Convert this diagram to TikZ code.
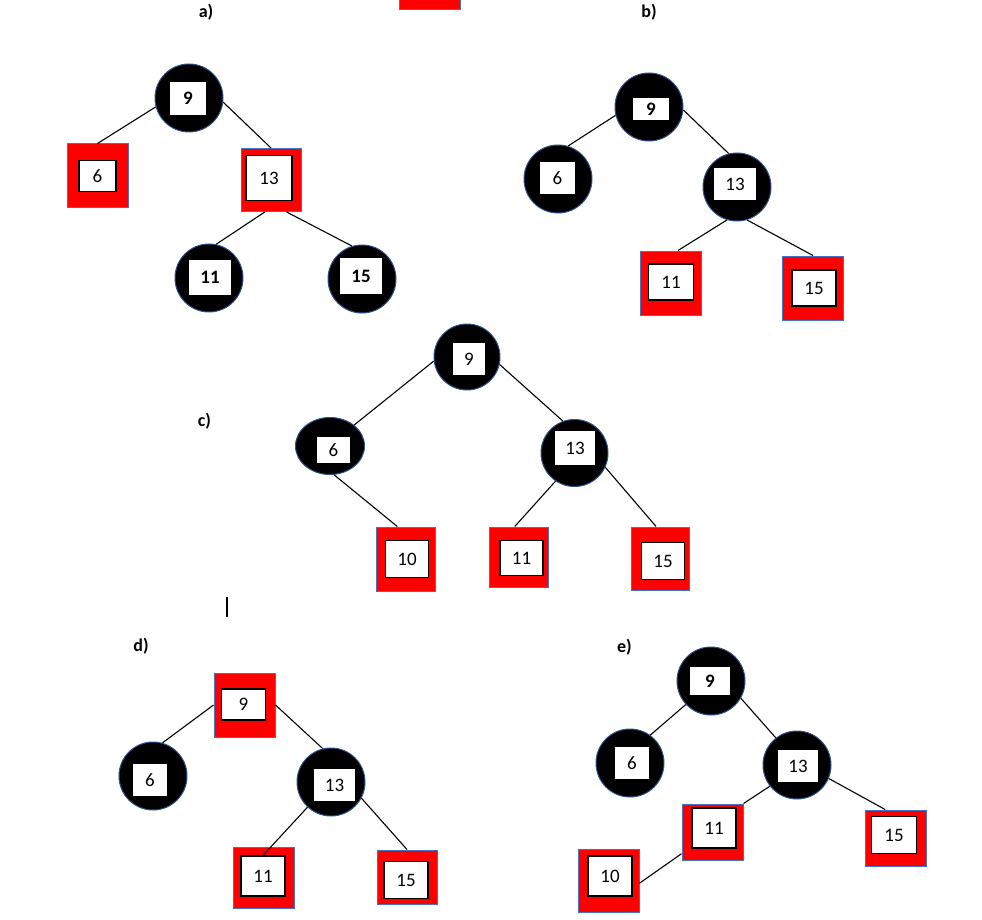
\documentclass[tikz,border=0pt]{standalone}
\usepackage{fontspec}
\setmainfont{Carlito}
\usetikzlibrary{shapes.geometric}
\definecolor{nodeblue}{RGB}{47,82,143}
\definecolor{boxblue}{RGB}{68,114,196}
\begin{document}
\begin{tikzpicture}[x=1pt,y=-1pt]
\tikzstyle{every node}=[font=\fontsize{19}{22}\selectfont,inner sep=0pt];
\tikzstyle{bnode}=[draw=nodeblue,fill=black,shape=circle,minimum size=68pt,line width=1pt];
\tikzstyle{rnode}=[draw=boxblue,fill=red,shape=rectangle,minimum width=61pt,minimum height=64pt,line width=1pt];
\tikzstyle{tbox}=[draw=black,fill=white,shape=rectangle,line width=1.2pt,minimum width=44pt,minimum height=36pt];
\tikzstyle{lbl}=[font=\fontsize{18}{22}\selectfont\bfseries];
\useasboundingbox (0,0) rectangle (982,920);
\clip (0,0) rectangle (982,920);
\node[rnode] (top) at (430,-22) {};
% a)
\node[lbl] (la) at (206,12) {a)};
\node[bnode] (a9) at (189,98) {};
\node[tbox,minimum width=38pt,minimum height=35pt] (a9t) at (188,98.5) {\bfseries 9};
\node[rnode] (a6) at (97.5,176) {};
\node[tbox,minimum width=37pt,minimum height=31pt] (a6t) at (97.5,176) {6};
\node[rnode,minimum width=60pt,minimum height=63pt] (a13) at (271,180) {};
\node[tbox,minimum width=46pt,minimum height=45pt] (a13t) at (269,178) {13};
\node[bnode] (a11) at (209,278) {};
\node[tbox,minimum height=37pt] (a11t) at (210,277.5) {\bfseries 11};
\node[bnode] (a15) at (362,279) {};
\node[tbox,minimum height=37pt] (a15t) at (361,276) {\bfseries 15};
% b)
\node[lbl] (lb) at (649,12) {b)};
\node[bnode] (b9) at (649,107) {};
\node[tbox,minimum width=38pt,minimum height=24pt] (b9t) at (651,109) {\bfseries 9};
\node[bnode] (b6) at (558,179) {};
\node[tbox,minimum width=36pt,minimum height=33pt] (b6t) at (557.5,178) {6};
\node[bnode] (b13) at (737,187) {};
\node[tbox,minimum width=43pt,minimum height=34pt] (b13t) at (735,184) {13};
\node[rnode] (b11) at (670.5,283) {};
\node[tbox,minimum width=45pt] (b11t) at (671,282) {11};
\node[rnode] (b15) at (813,288) {};
\node[tbox] (b15t) at (814,288) {15};
% c)
\node[lbl] (lc) at (204.5,421) {c)};
\draw[line width=1.5pt] (227,597) -- (227,617);
\node[bnode,minimum size=66pt] (c9) at (467,357) {};
\node[tbox,minimum width=34pt,minimum height=33pt] (c9t) at (469,359) {9};
\node[bnode,shape=ellipse,minimum width=69pt,minimum height=57pt] (c6) at (330,446) {};
\node[tbox,minimum width=35pt,minimum height=28pt] (c6t) at (333.5,450) {6};
\node[bnode,minimum size=67pt] (c13) at (574.5,453) {};
\node[tbox,minimum width=41pt,minimum height=35pt] (c13t) at (575,448) {13};
\node[rnode,minimum width=59pt] (c10) at (406,559) {};
\node[tbox,minimum width=43pt,minimum height=37pt] (c10t) at (407,559) {10};
\node[rnode,minimum width=59pt,minimum height=60pt] (c11) at (518.5,557) {};
\node[tbox,minimum width=43pt,minimum height=35pt] (c11t) at (521.5,558) {11};
\node[rnode,minimum width=58pt,minimum height=63pt] (c15) at (660,558.5) {};
\node[tbox,minimum width=43pt,minimum height=37pt] (c15t) at (663,561) {15};
% d)
\node[lbl] (ld) at (141,646) {d)};
\node[rnode] (d9) at (244.5,705) {};
\node[tbox,minimum height=31pt] (d9t) at (243.5,704.5) {9};
\node[bnode] (d6) at (153,776) {};
\node[tbox,minimum width=36pt,minimum height=33pt] (d6t) at (150,780) {6};
\node[bnode] (d13) at (331,782) {};
\node[tbox,minimum width=43pt,minimum height=34pt] (d13t) at (334.5,785) {13};
\node[rnode,minimum height=61pt] (d11) at (263.5,877.5) {};
\node[tbox,minimum height=40pt] (d11t) at (263,876) {11};
\node[rnode,minimum width=60pt,minimum height=54pt] (d15) at (407,877) {};
\node[tbox,minimum height=37pt] (d15t) at (406,880) {15};
% e)
\node[lbl] (le) at (624.5,647) {e)};
\node[bnode] (e9) at (711,681) {};
\node[tbox,minimum width=41pt,minimum height=30pt] (e9t) at (710,681) {\bfseries 9};
\node[bnode] (e6) at (630,763) {};
\node[tbox,minimum width=36pt,minimum height=34pt] (e6t) at (632,763) {6};
\node[bnode] (e13) at (797,765) {};
\node[tbox,minimum width=42pt,minimum height=33pt] (e13t) at (798,766) {13};
\node[rnode,minimum height=56pt] (e11) at (712.5,832) {};
\node[tbox,minimum height=40pt] (e11t) at (714,828) {11};
\node[rnode,minimum height=56pt] (e15) at (895.5,838) {};
\node[tbox,minimum width=45pt,minimum height=37pt] (e15t) at (894,835) {15};
\node[rnode,minimum height=63pt] (e10) at (608.5,880.5) {};
\node[tbox,minimum height=40pt] (e10t) at (610,876) {10};
% edges
\foreach \from/\to in {a9.195/a6.north, a9.353/a13.north, a13.259/a11.78, a13.296/a15.107,
    b9.194/b6.73, b9.355/b13.104, b13.253/b11.77, b13.287/b15.north,
    c9.187/c6.41, c9.347/c13.110, c6.278/c10.105, c13.236/c11.97, c13.335/c15.97,
    d9.west/d6.74, d9.east/d13.104, d13.227/d11t.north, d13.332/d15.north,
    e9.223/e6.54, e9.330/e13.128, e13.218/e11.north east, e13.337/e15.110, e11.215/e10.355}
    \draw [line width=1.1pt] (\from) -- (\to);
\end{tikzpicture}
\end{document}
